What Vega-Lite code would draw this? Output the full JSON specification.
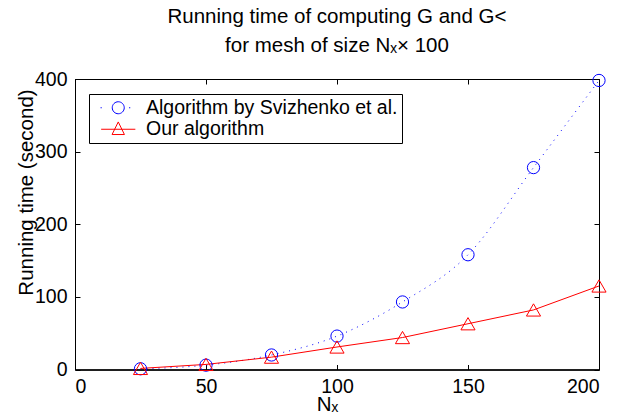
{
  "$schema": "https://vega.github.io/schema/vega-lite/v6.json",
  "width": 524,
  "height": 290.5,
  "autosize": {"type": "none"},
  "padding": {"left": 75, "top": 79, "right": 34, "bottom": 49.5},
  "background": "white",
  "config": {
    "font": "Liberation Sans",
    "view": {"stroke": "black", "strokeWidth": 1},
    "axis": {
      "grid": false,
      "domainColor": "black",
      "domainWidth": 1,
      "tickColor": "black",
      "tickSize": -5,
      "tickWidth": 1,
      "labelFontSize": 19.5,
      "labelColor": "black",
      "labelFont": "Liberation Sans",
      "labelPadding": 8,
      "titleFont": "Liberation Sans",
      "titleFontWeight": "normal",
      "titleColor": "black"
    }
  },
  "title": {
    "text": ["Running time of computing G and G˂", "for mesh of size Nₓ× 100"],
    "fontSize": 20.5,
    "fontWeight": "normal",
    "font": "Liberation Sans",
    "color": "black",
    "lineHeight": 28.7,
    "anchor": "middle",
    "offset": 12.5
  },
  "data": {
    "values": [
      {"N": 25, "time": 1, "series": "Algorithm by Svizhenko et al."},
      {"N": 50, "time": 6, "series": "Algorithm by Svizhenko et al."},
      {"N": 75, "time": 20, "series": "Algorithm by Svizhenko et al."},
      {"N": 100, "time": 46, "series": "Algorithm by Svizhenko et al."},
      {"N": 125, "time": 93, "series": "Algorithm by Svizhenko et al."},
      {"N": 150, "time": 158, "series": "Algorithm by Svizhenko et al."},
      {"N": 175, "time": 278, "series": "Algorithm by Svizhenko et al."},
      {"N": 200, "time": 398, "series": "Algorithm by Svizhenko et al."},
      {"N": 25, "time": 1.5, "series": "Our algorithm"},
      {"N": 50, "time": 7, "series": "Our algorithm"},
      {"N": 75, "time": 17, "series": "Our algorithm"},
      {"N": 100, "time": 31, "series": "Our algorithm"},
      {"N": 125, "time": 44, "series": "Our algorithm"},
      {"N": 150, "time": 63, "series": "Our algorithm"},
      {"N": 175, "time": 82, "series": "Our algorithm"},
      {"N": 200, "time": 115, "series": "Our algorithm"}
    ]
  },
  "layer": [
    {
      "transform": [{"filter": "datum.series === 'Algorithm by Svizhenko et al.'"}],
      "mark": {"type": "line", "color": "#0000ff", "strokeWidth": 1, "strokeDash": [1, 5], "interpolate": "monotone"},
      "encoding": {
        "x": {"field": "N", "type": "quantitative", "scale": {"domain": [0, 200], "nice": false},
              "axis": {"orient": "bottom", "values": [0, 50, 100, 150, 200], "ticks": false, "tickSize": 0, "labelPadding": 8, "title": "Nₓ", "titleFontSize": 20.5,
                       "titleX": 252, "titleY": 40.5, "titleAlign": "center", "titleBaseline": "alphabetic"}},
        "y": {"field": "time", "type": "quantitative", "scale": {"domain": [0, 400], "nice": false},
              "axis": {"orient": "left", "values": [0, 100, 200, 300, 400], "ticks": false, "tickSize": 0, "labelPadding": 8, "title": "Running time (second)", "titleFontSize": 20.5,
                       "titleX": -43, "titleY": 113, "titleAngle": -90, "titleAlign": "center", "titleBaseline": "alphabetic"}}
      }
    },
    {
      "transform": [{"filter": "datum.series === 'Our algorithm'"}],
      "mark": {"type": "line", "color": "#ff0000", "strokeWidth": 1},
      "encoding": {
        "x": {"field": "N", "type": "quantitative", "axis": null},
        "y": {"field": "time", "type": "quantitative", "axis": null}
      }
    },
    {
      "mark": {"type": "point", "filled": false, "strokeWidth": 1, "opacity": 1},
      "encoding": {
        "x": {"field": "N", "type": "quantitative", "axis": null},
        "y": {"field": "time", "type": "quantitative", "axis": null},
        "color": {
          "field": "series", "type": "nominal",
          "scale": {"domain": ["Algorithm by Svizhenko et al.", "Our algorithm"], "range": ["#0000ff", "#ff0000"]},
          "legend": null
        },
        "shape": {"field": "series", "type": "nominal", "scale": {"domain": ["Algorithm by Svizhenko et al.", "Our algorithm"], "range": ["circle", "triangle-up"]}, "legend": null},
        "size": {"field": "series", "type": "nominal", "scale": {"domain": ["Algorithm by Svizhenko et al.", "Our algorithm"], "range": [150, 200]}, "legend": null}
      }
    },
    {
      "mark": {"type": "point", "filled": false, "strokeWidth": 1, "opacity": 0},
      "encoding": {
        "x": {"field": "N", "type": "quantitative", "axis": {"orient": "top", "values": [0, 50, 100, 150, 200], "labels": false, "title": null}},
        "y": {"field": "time", "type": "quantitative", "axis": {"orient": "right", "values": [0, 100, 200, 300, 400], "labels": false, "title": null}},
        "color": {
          "field": "series", "type": "nominal",
          "scale": {"domain": ["Algorithm by Svizhenko et al.", "Our algorithm"], "range": ["#0000ff", "#ff0000"]},
          "legend": {
            "orient": "none", "legendX": 14, "legendY": 15, "title": null,
            "strokeColor": "black", "fillColor": "white", "cornerRadius": 0,
            "padding": 4, "rowPadding": 0.5, "labelLimit": 0,
            "labelFontSize": 19.5, "labelColor": "black", "labelFont": "Liberation Sans",
            "symbolSize": 144, "symbolStrokeWidth": 1, "symbolOffset": 15.5, "labelOffset": 18,
            "symbolOpacity": 1, "symbolFillColor": "transparent"
          }
        },
        "shape": {
          "field": "series", "type": "nominal",
          "scale": {"domain": ["Algorithm by Svizhenko et al.", "Our algorithm"],
                    "range": ["M-2.95,0h0.2M1.8,0h0.2M-1,0A1,1 0 1,0 1,0A1,1 0 1,0 -1,0", "M-2.85,0H2.85M0,-1.22L1.03,0.88L-1.03,0.88Z"]},
          "legend": {
            "orient": "none", "legendX": 14, "legendY": 15, "title": null,
            "strokeColor": "black", "fillColor": "white", "cornerRadius": 0,
            "padding": 4, "rowPadding": 0.5, "labelLimit": 0,
            "labelFontSize": 19.5, "labelColor": "black", "labelFont": "Liberation Sans",
            "symbolSize": 144, "symbolStrokeWidth": 1, "symbolOffset": 15.5, "labelOffset": 18,
            "symbolOpacity": 1, "symbolFillColor": "transparent"
          }
        }
      }
    },
    {
      "mark": {"type": "point", "opacity": 0},
      "encoding": {
        "x": {"field": "N", "type": "quantitative", "axis": {"orient": "bottom", "values": [0, 50, 100, 150, 200], "labels": false, "title": null}},
        "y": {"field": "time", "type": "quantitative", "axis": {"orient": "left", "values": [0, 100, 200, 300, 400], "labels": false, "title": null}}
      }
    }
  ],
  "resolve": {"axis": {"x": "independent", "y": "independent"}, "scale": {"shape": "independent", "color": "independent"}}
}
